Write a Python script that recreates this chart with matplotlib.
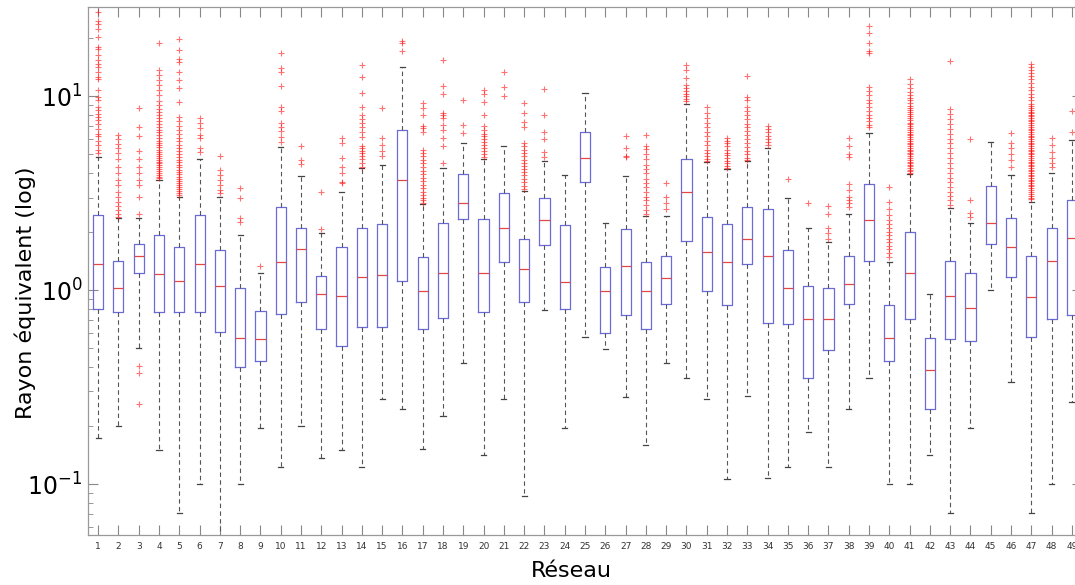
import matplotlib
matplotlib.use('Agg')
import matplotlib.pyplot as plt
from matplotlib.ticker import LogLocator, NullFormatter

plt.rcParams['axes.unicode_minus'] = False

# ---- data ----
reseaux = list(range(1, 50))

whisker_low = [0.173, 0.200, 0.50, 0.150, 0.0706, 0.100, 0.05, 0.100, 0.194, 0.122,
               0.200, 0.136, 0.150, 0.122, 0.274, 0.244, 0.151, 0.223, 0.419, 0.141,
               0.274, 0.0867, 0.788, 0.195, 0.575, 0.498, 0.280, 0.159, 0.419, 0.353,
               0.274, 0.106, 0.283, 0.107, 0.122, 0.186, 0.122, 0.244, 0.353, 0.100,
               0.100, 0.141, 0.0706, 0.194, 0.997, 0.334, 0.0706, 0.100, 0.264]
q1 = [0.795, 0.773, 1.22, 0.773, 0.773, 0.773, 0.610, 0.403, 0.429, 0.749,
      0.864, 0.627, 0.516, 0.647, 0.647, 1.11, 0.627, 0.715, 2.33, 0.770,
      1.40, 0.864, 1.71, 0.795, 3.59, 0.598, 0.741, 0.630, 0.847, 1.80,
      0.992, 0.837, 1.37, 0.678, 0.666, 0.353, 0.489, 0.844, 1.41, 0.432,
      0.706, 0.244, 0.557, 0.544, 1.72, 1.167, 0.573, 0.706, 0.741]
median = [1.37, 1.02, 1.49, 1.205, 1.11, 1.37, 1.05, 0.568, 0.557, 1.39,
          1.62, 0.950, 0.928, 1.167, 1.195, 3.68, 0.992, 1.22, 2.82, 1.22,
          2.10, 1.29, 2.31, 1.10, 4.77, 0.992, 1.33, 0.992, 1.15, 3.21,
          1.57, 1.40, 1.83, 1.50, 1.02, 0.706, 0.706, 1.07, 2.29, 0.564,
          1.22, 0.386, 0.934, 0.811, 2.23, 1.67, 0.920, 1.42, 1.85]
q3 = [2.44, 1.42, 1.72, 1.93, 1.66, 2.44, 1.60, 1.02, 0.782, 2.67,
      2.10, 1.18, 1.66, 2.10, 2.20, 6.70, 1.485, 2.22, 3.95, 2.33,
      3.15, 1.84, 2.97, 2.17, 6.55, 1.32, 2.06, 1.40, 1.50, 4.72,
      2.39, 2.18, 2.67, 2.63, 1.60, 1.05, 1.02, 1.50, 3.51, 0.834,
      2.00, 0.568, 1.42, 1.23, 3.42, 2.34, 1.49, 2.10, 2.93]
whisker_high = [4.87, 2.34, 2.35, 3.69, 3.03, 4.72, 3.03, 1.92, 1.22, 5.48,
                3.87, 1.98, 3.21, 4.24, 4.39, 14.2, 2.78, 4.24, 5.70, 4.72,
                5.54, 3.24, 4.64, 3.90, 10.4, 2.23, 3.87, 2.40, 2.42, 9.10,
                4.55, 4.19, 4.62, 5.41, 2.97, 2.08, 1.76, 2.48, 6.47, 1.40,
                3.95, 0.950, 2.64, 2.23, 5.77, 3.91, 2.85, 3.99, 5.93]

outliers = [
    [27.0, 24.4, 23.5, 22.3, 20.2, 17.9, 17.4, 16.3, 15.3, 14.7, 14.2, 13.3, 12.5, 12.2, 10.7,
     9.9, 9.5, 8.8, 8.5, 8.1, 7.8, 7.5, 7.2, 6.8, 6.4, 6.2, 5.9, 5.6, 5.3, 5.1],
    [6.29, 5.98, 5.66, 5.37, 5.07, 4.72, 4.32, 3.99, 3.69, 3.48, 3.21, 3.03, 2.85, 2.71, 2.58, 2.48, 2.39],
    [8.64, 6.90, 6.22, 5.22, 4.72, 4.32, 3.99, 3.69, 3.48, 3.03, 2.48, 0.406, 0.372, 0.258],
    [18.7, 13.6, 12.8, 12.1, 11.4, 10.7, 10.1, 9.4, 9.0, 8.6, 8.3, 8.0, 7.7, 7.45, 7.2, 6.95,
     6.7, 6.5, 6.3, 6.1, 5.9, 5.75, 5.6, 5.45, 5.3, 5.15, 5.0, 4.9, 4.8, 4.7, 4.6, 4.5, 4.4,
     4.3, 4.2, 4.1, 4.0, 3.92, 3.85, 3.78],
    [19.8, 17.3, 15.6, 15.0, 13.3, 12.1, 11.0, 9.35, 7.8, 7.4, 7.0, 6.7, 6.4, 6.1, 5.85, 5.6,
     5.4, 5.2, 5.0, 4.85, 4.7, 4.55, 4.42, 4.3, 4.18, 4.06, 3.95, 3.85, 3.75, 3.65, 3.56, 3.47,
     3.39, 3.31, 3.23, 3.16, 3.1],
    [7.67, 7.23, 6.82, 6.29, 6.05, 5.37, 5.17],
    [4.92, 4.16, 3.91, 3.69, 3.48, 3.28, 3.17],
    [3.34, 2.97, 2.34, 2.25],
    [1.33],
    [16.7, 13.9, 13.3, 11.3, 8.74, 8.37, 7.23, 6.95, 6.62, 6.12, 5.81],
    [5.54, 4.68, 4.46],
    [3.21, 2.06],
    [6.05, 5.70, 4.77, 4.32, 3.99, 3.62, 3.55],
    [14.4, 12.6, 10.4, 8.74, 7.98, 7.58, 7.23, 6.90, 6.55, 6.12, 5.54, 5.37, 5.22, 5.07, 4.91, 4.72, 4.50, 4.32],
    [8.64, 6.10, 5.59, 5.22, 4.91],
    [19.3, 18.7, 17.1],
    [9.17, 8.64, 7.98, 7.0, 6.82, 6.55, 5.3, 5.1, 4.9, 4.7, 4.5, 4.3, 4.1, 3.95, 3.8, 3.65, 3.5,
     3.35, 3.2, 3.1, 3.0, 2.9, 2.82],
    [15.3, 11.3, 10.2, 8.14, 7.98, 7.67, 7.09, 6.68, 6.05, 5.52, 4.53],
    [9.53, 7.09, 6.47],
    [10.8, 10.2, 9.35, 7.98, 7.0, 6.7, 6.4, 6.2, 6.0, 5.8, 5.6, 5.4, 5.2, 5.0, 4.85],
    [13.3, 11.2, 10.0],
    [9.25, 8.20, 7.37, 6.95, 5.7, 5.5, 5.3, 5.1, 4.9, 4.7, 4.5, 4.35, 4.2, 4.05, 3.9, 3.75, 3.6, 3.45, 3.3],
    [10.9, 7.98, 6.50, 6.0, 5.17, 4.87],
    [],
    [],
    [],
    [6.25, 5.37, 4.94, 4.83],
    [6.27, 5.52, 5.31, 5.02, 4.72, 4.41, 4.19, 3.99, 3.76, 3.57, 3.41, 3.21, 3.03, 2.91, 2.74, 2.58, 2.46],
    [3.57, 3.03, 2.80, 2.61],
    [14.4, 13.6, 12.4, 11.4, 11.0, 10.6, 10.3, 10.0, 9.7, 9.4],
    [8.74, 8.2, 7.7, 7.3, 6.9, 6.5, 6.2, 5.9, 5.6, 5.3, 5.1, 4.9, 4.75, 4.65],
    [6.1, 5.9, 5.7, 5.5, 5.3, 5.1, 4.95, 4.8, 4.65, 4.5, 4.38, 4.28],
    [12.7, 9.85, 9.53, 8.8, 8.4, 8.0, 7.6, 7.2, 6.9, 6.6, 6.3, 6.0, 5.7, 5.45, 5.2, 5.0, 4.8, 4.7],
    [7.0, 6.8, 6.5, 6.2, 6.0, 5.8, 5.6],
    [3.76],
    [2.82],
    [2.71, 2.46, 2.08, 1.96, 1.83],
    [6.1, 5.54, 5.02, 4.87, 3.52, 3.28, 3.03, 2.91, 2.80, 2.67],
    [22.9, 21.1, 18.8, 17.1, 16.6, 11.1, 10.6, 10.1, 9.6, 9.2, 8.8, 8.4, 8.0, 7.7, 7.4, 7.1, 6.9],
    [3.41, 2.85, 2.61, 2.44, 2.3, 2.2, 2.1, 2.0, 1.92, 1.84, 1.76, 1.69, 1.62, 1.55, 1.48],
    [12.2, 11.6, 11.0, 10.5, 10.1, 9.8, 9.5, 9.2, 8.9, 8.7, 8.5, 8.3, 8.1, 7.9, 7.7, 7.5, 7.3,
     7.15, 7.0, 6.85, 6.7, 6.55, 6.4, 6.27, 6.14, 6.0, 5.88, 5.76, 5.64, 5.52, 5.4, 5.3, 5.2,
     5.1, 5.0, 4.9, 4.8, 4.7, 4.6, 4.5, 4.42, 4.34, 4.26, 4.18, 4.1, 4.02],
    [],
    [15.2, 8.6, 8.1, 7.6, 7.2, 6.8, 6.4, 6.0, 5.7, 5.4, 5.1, 4.8, 4.5, 4.25, 4.0, 3.8, 3.6, 3.4,
     3.2, 3.05, 2.9, 2.75],
    [5.98, 2.93, 2.50, 2.39],
    [],
    [6.47, 5.74, 5.37, 5.02, 4.68, 4.32],
    [14.7, 14.2, 13.7, 13.2, 12.7, 12.2, 11.7, 11.2, 10.7, 10.3, 9.9, 9.5, 9.1, 8.9, 8.7, 8.5,
     8.3, 8.15, 8.0, 7.85, 7.7, 7.55, 7.4, 7.25, 7.1, 6.95, 6.8, 6.65, 6.5, 6.38, 6.25, 6.12,
     6.0, 5.88, 5.76, 5.64, 5.52, 5.4, 5.3, 5.2, 5.1, 5.0, 4.9, 4.8, 4.7, 4.6, 4.5, 4.42, 4.34,
     4.26, 4.18, 4.1, 4.02, 3.94, 3.86, 3.78, 3.7, 3.63, 3.56, 3.49, 3.42, 3.35, 3.28, 3.21,
     3.14, 3.07, 3.0, 2.95],
    [6.1, 5.59, 5.17, 4.77, 4.5, 4.32],
    [8.40, 6.55],
]

# ---- figure ----
W, H = 1075, 585
fig = plt.figure(figsize=(W / 100, H / 100), dpi=100)
ax = fig.add_axes([88 / W, 1 - 535 / H, 994 / W, 528 / H])
ax.set_yscale('log')

stats = []
for r, lo, a, m, b, hi, fl in zip(reseaux, whisker_low, q1, median, q3, whisker_high, outliers):
    stats.append(dict(whislo=lo, q1=a, med=m, q3=b, whishi=hi, fliers=fl, label=str(r)))

ax.bxp(stats, positions=reseaux, widths=0.5, capwidths=0.25, showfliers=True,
       boxprops=dict(color='#6b6bd8', linewidth=0.9),
       medianprops=dict(color='#e04848', linewidth=0.9),
       whiskerprops=dict(color='#555555', linestyle=(0, (4, 3)), linewidth=0.8),
       capprops=dict(color='#444444', linewidth=0.9),
       flierprops=dict(marker='+', markeredgecolor='red', markersize=5,
                       markeredgewidth=0.8, alpha=0.55, linestyle='none'))

ax.set_xlim(0.5, 49.5)
ax.set_ylim(0.0546, 28.8)

ax.yaxis.set_major_locator(LogLocator(base=10))
ax.yaxis.set_minor_locator(LogLocator(base=10, subs=range(2, 10)))
ax.yaxis.set_minor_formatter(NullFormatter())

for s in ax.spines.values():
    s.set_color('#999999')
    s.set_linewidth(0.9)

ax.tick_params(axis='both', which='both', direction='in', top=True, right=True, color='#888888')
ax.tick_params(axis='x', which='major', length=7, labelsize=6.5, labelcolor='#333333', pad=5)
ax.tick_params(axis='y', which='major', length=7, labelsize=17, pad=4)
ax.tick_params(axis='y', which='minor', length=3.6)

fig.text(25 / W, 1 - 293 / H, 'Rayon équivalent (log)', rotation=90,
         ha='center', va='center', fontsize=16)
fig.text(571 / W, 1 - 571 / H, 'Réseau', ha='center', va='center', fontsize=16)

fig.savefig('out.png', dpi=100)
